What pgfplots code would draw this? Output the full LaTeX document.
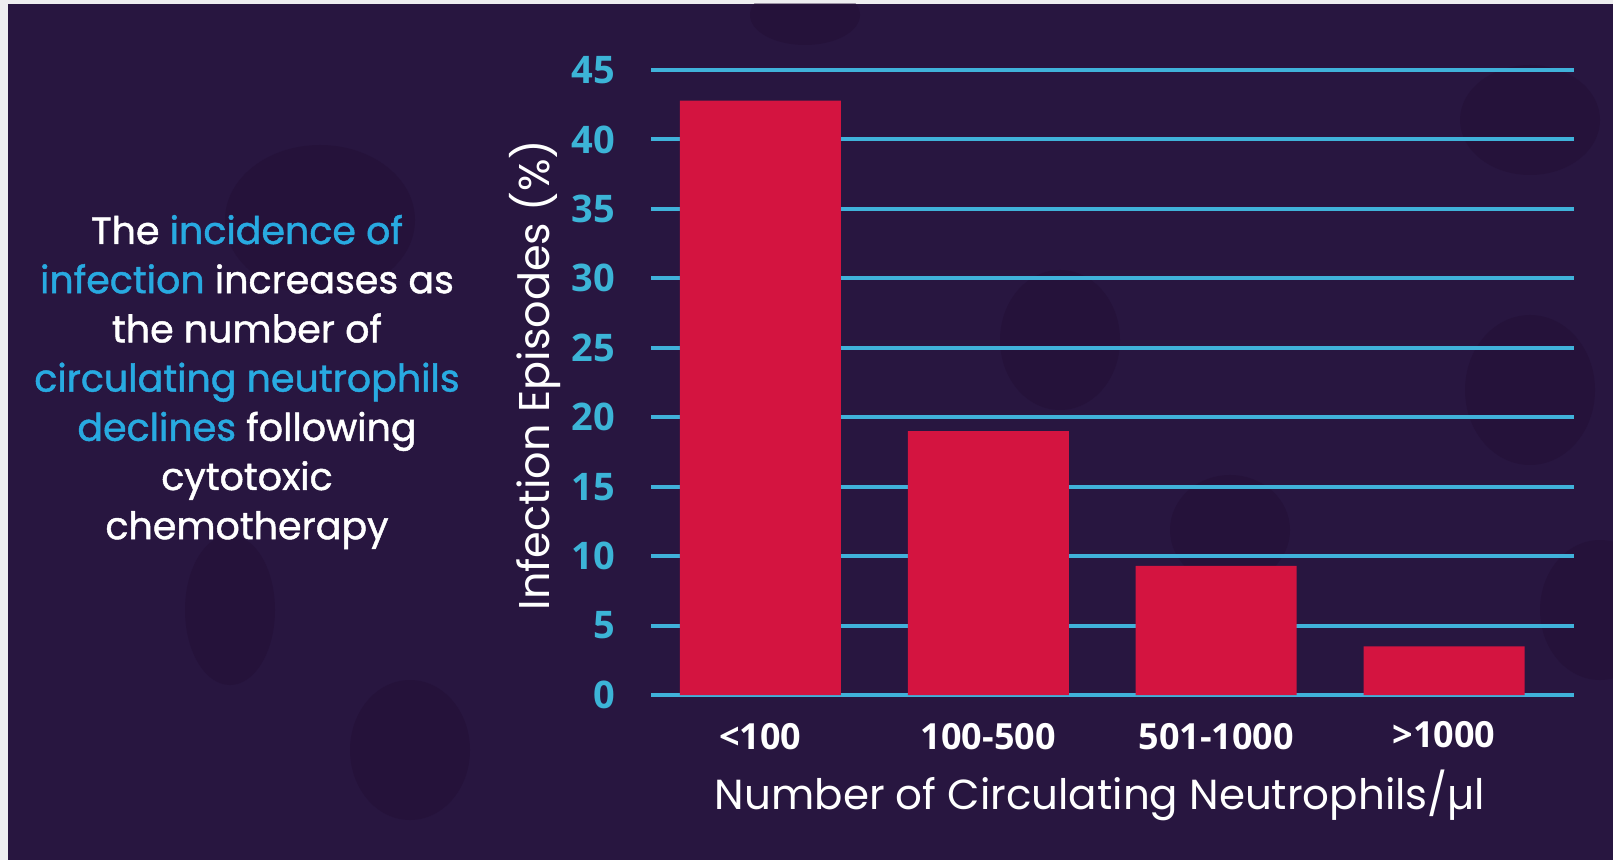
\documentclass[border=0pt]{standalone}
\usepackage{fontspec}
\setmainfont{Poppins}
\newfontfamily\annfont{Poppins}[FakeBold=1.2]
\newfontfamily\numfont{Open Sans}
\usepackage{pgfplots}
\pgfplotsset{compat=1.18}
\definecolor{bg}{RGB}{40,22,64}
\definecolor{cell}{RGB}{33,12,50}
\definecolor{gridc}{RGB}{64,178,218}
\definecolor{tickc}{RGB}{60,180,215}
\definecolor{barc}{RGB}{212,20,64}
\definecolor{hl}{RGB}{40,170,225}
\definecolor{edge}{RGB}{238,238,240}
\begin{document}
\begin{tikzpicture}
\useasboundingbox (0pt,0pt) rectangle (1613pt,860pt);
\fill[edge] (0pt,0pt) rectangle (1613pt,860pt);
\fill[bg] (8pt,0pt) rectangle (1613pt,856pt);
\begin{scope}
\clip (8pt,0pt) rectangle (1613pt,856pt);
\begin{scope}[opacity=0.4]
\fill[cell] (320pt,640pt) ellipse [x radius=95pt, y radius=75pt];
\fill[cell] (805pt,845pt) ellipse [x radius=55pt, y radius=30pt];
\fill[cell] (230pt,250pt) ellipse [x radius=45pt, y radius=75pt];
\fill[cell] (410pt,110pt) ellipse [x radius=60pt, y radius=70pt];
\fill[cell] (1530pt,740pt) ellipse [x radius=70pt, y radius=55pt];
\fill[cell] (1530pt,470pt) ellipse [x radius=65pt, y radius=75pt];
\fill[cell] (1600pt,250pt) ellipse [x radius=60pt, y radius=70pt];
\fill[cell] (1060pt,520pt) ellipse [x radius=60pt, y radius=70pt];
\fill[cell] (1230pt,330pt) ellipse [x radius=60pt, y radius=55pt];
\end{scope}
\end{scope}
\begin{axis}[
  at={(651pt,165pt)}, anchor=south west,
  scale only axis, width=923pt, height=625pt,
  xmin=-0.48, xmax=3.57, ymin=0, ymax=45,
  ytick={0,5,...,45},
  xtick={0,1,2,3},
  xticklabels={{<100},{100-500},{501-1000},{\raisebox{5pt}{>1000}}},
  axis line style={draw=none}, major tick length=0pt,
  ymajorgrids, grid style={color=gridc, line width=4pt},
  /pgf/number format/assume math mode=true,
  yticklabel style={font=\numfont\bfseries\fontsize{38}{38}\selectfont, text=tickc, anchor=east, inner sep=0pt, xshift=-36pt},
  xticklabel style={font=\numfont\bfseries\fontsize{36}{36}\selectfont, text=white, anchor=center, inner sep=0pt, yshift=-42pt},
  ybar, bar width=161pt,
]
\addplot[fill=barc, draw=none] coordinates {(0,42.8) (1,19.0) (2,9.3) (3,3.5)};
\end{axis}
\node[rotate=90, text=white, font=\fontsize{43}{43}\selectfont] at (535pt,485pt) {Infection Episodes (\%)};
\node[text=white, font=\fontsize{42}{42}\selectfont] at (1100pt,65pt) {Number of Circulating Neutrophils/µl};
\node[align=center, text=white, font=\annfont\fontsize{38}{49.2}\selectfont] at (247pt,478pt) {The \textcolor{hl}{incidence of}\\ \textcolor{hl}{infection} increases as\\ the number of\\ \textcolor{hl}{circulating neutrophils}\\ \textcolor{hl}{declines} following\\ cytotoxic\\ chemotherapy};
\end{tikzpicture}
\end{document}
